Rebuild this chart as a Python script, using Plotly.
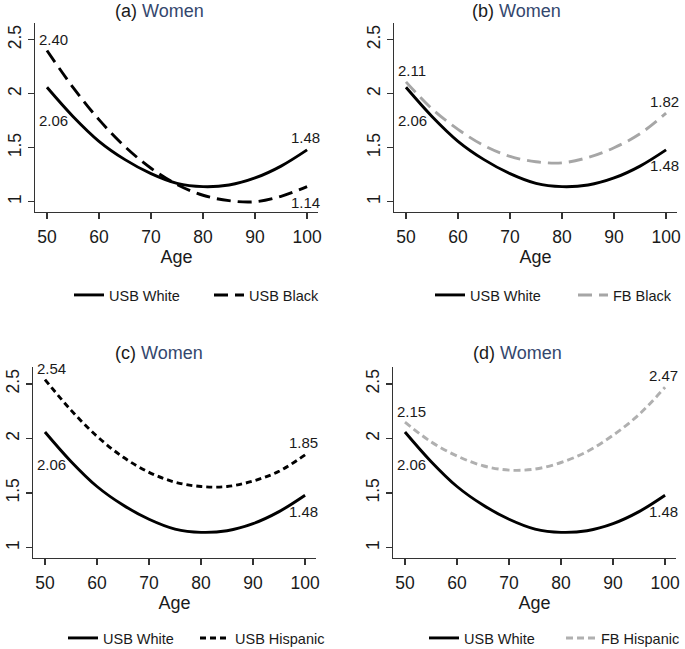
import plotly.graph_objects as go

# ---------------- data ----------------
ages = [50, 55, 60, 65, 70, 75, 80, 85, 90, 95, 100]
usb_white = [2.06, 1.79, 1.56, 1.39, 1.26, 1.17, 1.14, 1.155, 1.22, 1.33, 1.48]
usb_black = [2.40, 2.06, 1.76, 1.51, 1.31, 1.16, 1.06, 1.01, 1.00, 1.05, 1.14]
fb_black = [2.11, 1.86, 1.67, 1.52, 1.42, 1.37, 1.36, 1.41, 1.50, 1.63, 1.82]
usb_hispanic = [2.54, 2.26, 2.02, 1.83, 1.69, 1.60, 1.56, 1.56, 1.61, 1.70, 1.85]
fb_hispanic = [2.15, 1.97, 1.84, 1.75, 1.71, 1.72, 1.78, 1.88, 2.03, 2.22, 2.47]

panel_letters = ["(a)", "(b)", "(c)", "(d)"]
group_label = "Women"
reference_name = "USB White"
comparison_names = ["USB Black", "FB Black", "USB Hispanic", "FB Hispanic"]
comparison_values = [usb_black, fb_black, usb_hispanic, fb_hispanic]

x_ticks = [50, 60, 70, 80, 90, 100]
y_ticks = [1, 1.5, 2, 2.5]
y_tick_text = ["1", "1.5", "2", "2.5"]
x_title = "Age"

# ---------------- styling / layout ----------------
W, H = 685, 649
FONT = "Arial, 'Liberation Sans', Helvetica, sans-serif"
TXT = "#1a1a1a"
AXC = "#333333"

styles = [
    dict(color="#000000", dash="14px,7px"),
    dict(color="#a6a6a6", dash="14px,7px"),
    dict(color="#000000", dash="6px,4px"),
    dict(color="#b0b0b0", dash="7px,4px"),
]
# pixel geometry of each panel: plot-area left/right, top/bottom,
# title centre, legend first-text start, spacing between entries, legend row y
geom = [
    dict(x0=35, x1=318, y0=23, y1=212, tx=159, ty=11, l1=112, sp=140, ly=295),
    dict(x0=394, x1=677, y0=23, y1=212, tx=516, ty=11, l1=473, sp=143, ly=295),
    dict(x0=33, x1=316, y0=367, y1=558, tx=159, ty=353, l1=106, sp=132, ly=638),
    dict(x0=393, x1=676, y0=367, y1=558, tx=517, ty=353, l1=467, sp=137, ly=638),
]

fig = go.Figure()
layout = dict(
    width=W, height=H,
    margin=dict(l=0, r=0, t=0, b=0, autoexpand=False),
    paper_bgcolor="white", plot_bgcolor="white",
    font=dict(family=FONT, color=TXT),
    showlegend=True,
    annotations=[],
)

for i in range(4):
    g = geom[i]
    sfx = "" if i == 0 else str(i + 1)
    xa, ya = "x" + sfx, "y" + sfx
    leg = "legend" + sfx
    st = styles[i]
    comp = comparison_values[i]

    fig.add_trace(go.Scatter(
        x=ages, y=usb_white, mode="lines", name=reference_name,
        line=dict(color="#000000", width=2.9, shape="spline"),
        xaxis=xa, yaxis=ya, legend=leg, hoverinfo="skip"))
    fig.add_trace(go.Scatter(
        x=ages, y=comp, mode="lines", name=comparison_names[i],
        line=dict(color=st["color"], width=2.9, dash=st["dash"], shape="spline"),
        xaxis=xa, yaxis=ya, legend=leg, hoverinfo="skip"))

    layout["xaxis" + sfx] = dict(
        domain=[g["x0"] / W, g["x1"] / W], anchor=ya, range=[47.7, 102.1],
        tickvals=x_ticks, ticks="outside", ticklen=6, tickwidth=1.3, tickcolor=AXC,
        showline=True, linecolor=AXC, linewidth=1.3, showgrid=False, zeroline=False,
        tickfont=dict(size=17.5, color=TXT), ticklabelstandoff=3,
        title=dict(text=x_title, font=dict(size=18, color=TXT), standoff=0),
        fixedrange=True)
    layout["yaxis" + sfx] = dict(
        domain=[1 - g["y1"] / H, 1 - g["y0"] / H], anchor=xa, range=[0.905, 2.655],
        tickvals=y_ticks, ticktext=y_tick_text, tickangle=-90,
        ticks="outside", ticklen=6, tickwidth=1.3, tickcolor=AXC,
        showline=True, linecolor=AXC, linewidth=1.3, showgrid=False, zeroline=False,
        tickfont=dict(size=17.5, color=TXT), fixedrange=True)
    layout[leg] = dict(
        orientation="h", x=(g["l1"] - 43) / W, xanchor="left",
        y=1 - g["ly"] / H, yanchor="middle",
        font=dict(size=14.5, color=TXT), bgcolor="rgba(0,0,0,0)",
        entrywidth=g["sp"] - 45, entrywidthmode="pixels")

    # panel title
    layout["annotations"].append(dict(
        xref="paper", yref="paper", x=g["tx"] / W, y=1 - g["ty"] / H,
        xanchor="center", yanchor="middle", showarrow=False,
        text=f"{panel_letters[i]} <span style='color:#34476e'>{group_label}</span>",
        font=dict(size=18, color=TXT)))

    # endpoint value labels
    w0, w1 = usb_white[0], usb_white[-1]
    c0, c1 = comp[0], comp[-1]
    for val, other, pos in [(w0, c0, "start"), (c0, w0, "start"),
                            (w1, c1, "end"), (c1, w1, "end")]:
        above = val > other
        if pos == "start":
            ys = 11 if above else -33
            layout["annotations"].append(dict(
                xref=xa, yref=ya, x=ages[0], y=val, text=f"{val:.2f}",
                xanchor="left", yanchor="middle", xshift=-10, yshift=ys,
                showarrow=False, font=dict(size=15, color=TXT)))
        else:
            ys = 12 if above else -16
            layout["annotations"].append(dict(
                xref=xa, yref=ya, x=ages[-1], y=val, text=f"{val:.2f}",
                xanchor="right", yanchor="middle", xshift=15, yshift=ys,
                showarrow=False, font=dict(size=15, color=TXT)))

fig.update_layout(**layout)
fig.write_html(
    "out.html",
    config=dict(displayModeBar=False, staticPlot=True),
    post_script="document.body.style.margin='0';document.body.style.overflow='hidden';")
